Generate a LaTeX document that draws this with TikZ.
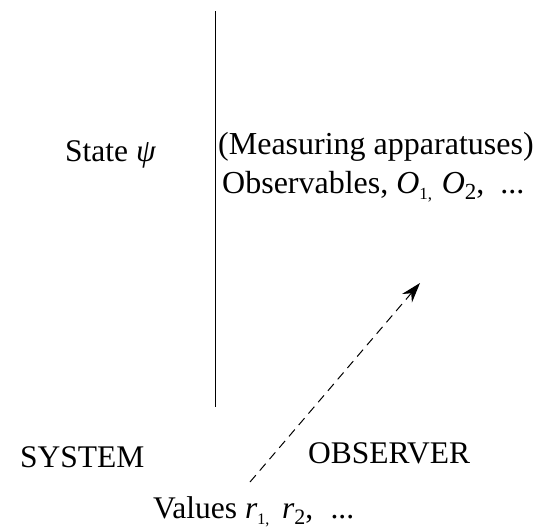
\documentclass[tikz,border=0pt]{standalone}
\usepackage{fontspec}
\setmainfont{Liberation Serif}
\usetikzlibrary{arrows.meta}

% lowered index at a given size
\newcommand{\lowidx}[2]{\raisebox{-0.2em}{\fontsize{#1}{#1}\selectfont #2}}

\tikzset{
  biglabel/.style={anchor=base west,inner sep=0pt,font=\fontsize{31.5}{31.5}\selectfont},
  devlabel/.style={anchor=base west,inner sep=0pt,font=\fontsize{32}{32}\selectfont}
}

\begin{document}
\begin{tikzpicture}[x=1pt,y=-1pt]
  \useasboundingbox (0,0) rectangle (537,531);

  % Draw the dividing line
  \coordinate (top) at (215.5,11);
  \coordinate (bottom) at (215.5,407);
  \draw[line width=1.4pt] (top) -- (bottom);

  % Draw the labels
  \node[biglabel] (state) at (65,161) {State \textit{ψ}};
  \node[devlabel] (apparatus) at (218,154) {(Measuring apparatuses)};
  \node[devlabel] (observables) at (222,193) {Observables, \textit{O}\lowidx{17}{1,}\hspace{0.3em}\textit{O}\lowidx{23}{2},\hspace{0.5em}...};
  \node[biglabel] (system) at (20,467) {SYSTEM};
  \node[biglabel] (observer) at (308,463) {OBSERVER};
  \node[biglabel] (values) at (153,518) {Values \textit{r}\lowidx{16}{1,}\hspace{0.4em}\textit{r}\lowidx{22}{2},\hspace{0.55em}...};

  % Draw the dashed arrow
  \coordinate (tail) at (250,482);
  \coordinate (tip) at (420,283);
  \draw[dash pattern=on 9pt off 6pt,line width=1pt,-{Stealth[length=20pt,width=13pt]}] (tail) -- (tip);
\end{tikzpicture}
\end{document}
